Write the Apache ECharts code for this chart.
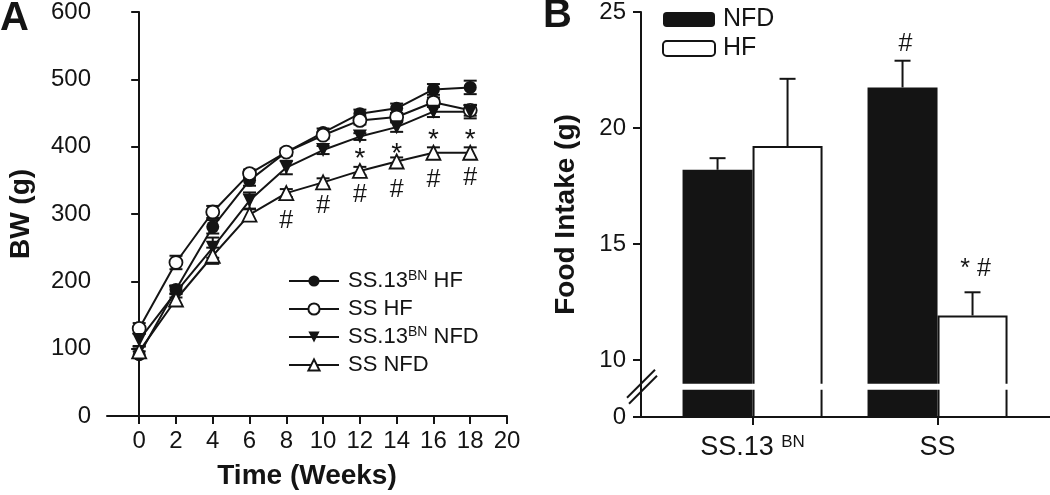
<!DOCTYPE html>
<html>
<head>
<meta charset="utf-8">
<script src="https://cdn.jsdelivr.net/npm/echarts@6/dist/echarts.min.js"></script>
<style>
  html, body { margin: 0; padding: 0; background: #fff; }
  #chart { width: 1050px; height: 495px; }
</style>
</head>
<body>
<div id="chart"></div>
<script>
// ---- panel A: body weight ----
const weeks = [0, 2, 4, 6, 8, 10, 12, 14, 16, 18]
const bwHF13 = [91, 188, 281, 350, 392, 421, 449, 457, 485, 488]
const bwHF13Err = [5, 6, 10, 8, 5, 6, 6, 7, 8, 10]
const bwHFSS = [130, 228, 303, 360, 392, 417, 439, 444, 466, 454]
const bwHFSSErr = [8, 10, 9, 6, 5, 5, 6, 6, 7, 8]
const bwNFD13 = [113, 184, 250, 320, 369, 395, 415, 429, 452, 452]
const bwNFD13Err = [10, 8, 15, 12, 10, 6, 5, 7, 8, 10]
const bwNFDSS = [96, 173, 238, 299, 331, 347, 364, 378, 391, 391]
const bwNFDSSErr = [8, 8, 12, 8, 6, 6, 6, 6, 8, 8]
const starWeeks = [12, 14, 16, 18]
const starBW = [390, 398, 419, 419]
const hashWeeks = [8, 10, 12, 14, 16, 18]
const hashBW = [289, 311, 328, 335, 351, 354]
const xTicksA = [0, 2, 4, 6, 8, 10, 12, 14, 16, 18, 20]

// ---- panel B: food intake ----
const groups = ['SS.13BN', 'SS']
const groupX = [1, 2]
const intakeNFD = [18.2, 21.75]
const intakeNFDErr = [0.5, 1.15]
const intakeHF = [19.22, 11.92]
const intakeHFErr = [2.9, 1.0]
const markB = [['#', 2, 23.6, -1], ['* #', 2, 13.9, 1]]
const yTicksB = [10, 15, 20, 25]

// broken axis: values between 0 and 10 are squeezed
const breakBase = 7.545
const gapLo = 8.72
const gapHi = 8.98

const FONT = 'Liberation Sans, Arial, sans-serif'
const INK = '#141414'
const BAR_W = 70

const chart = echarts.init(document.getElementById('chart'))

function pairs(xs, ys) {
  return xs.map((x, i) => [x, ys[i]])
}
function errTriples(ys, es) {
  return weeks.map((w, i) => [w, ys[i], es[i]])
}

function renderErrA(params, api) {
  const x = api.value(0)
  const y = api.value(1)
  const e = api.value(2)
  const hi = api.coord([x, y + e])
  const lo = api.coord([x, y - e])
  const c = 6.5
  const st = { stroke: INK, lineWidth: 2 }
  return {
    type: 'group',
    children: [
      { type: 'line', shape: { x1: hi[0], y1: hi[1], x2: lo[0], y2: lo[1] }, style: st },
      { type: 'line', shape: { x1: hi[0] - c, y1: hi[1], x2: hi[0] + c, y2: hi[1] }, style: st },
      { type: 'line', shape: { x1: lo[0] - c, y1: lo[1], x2: lo[0] + c, y2: lo[1] }, style: st }
    ]
  }
}

function textSeries(xAxisIndex, yAxisIndex, data, text, size, dy) {
  return {
    type: 'custom',
    xAxisIndex: xAxisIndex,
    yAxisIndex: yAxisIndex,
    z: 5,
    silent: true,
    data: data,
    renderItem: function(params, api) {
      const p = api.coord([api.value(0), api.value(1)])
      return {
        type: 'text',
        x: p[0],
        y: p[1] + dy,
        style: {
          text: text, fill: INK, fontSize: size, fontFamily: FONT,
          align: 'center', verticalAlign: 'middle'
        }
      }
    }
  }
}

function lineSeries(name, ys, symbol, size, fill) {
  return {
    name: name,
    type: 'line',
    xAxisIndex: 0,
    yAxisIndex: 0,
    z: 3,
    data: pairs(weeks, ys),
    symbol: symbol,
    symbolSize: size,
    showAllSymbol: true,
    lineStyle: { color: INK, width: 2 },
    itemStyle: { color: fill, borderColor: INK, borderWidth: fill === '#fff' ? 1.8 : 0 }
  }
}

function errSeries(ys, es) {
  return {
    type: 'custom',
    xAxisIndex: 0,
    yAxisIndex: 0,
    z: 2,
    silent: true,
    encode: { x: 0, y: 1 },
    data: errTriples(ys, es),
    renderItem: renderErrA
  }
}

function barErrSeries(vals, errs, side) {
  return {
    type: 'custom',
    xAxisIndex: 1,
    yAxisIndex: 1,
    z: 4,
    silent: true,
    data: groupX.map((x, i) => [x, vals[i], errs[i]]),
    renderItem: function(params, api) {
      const x = api.value(0)
      const y = api.value(1)
      const e = api.value(2)
      const base = api.coord([x, y])
      const top = api.coord([x, y + e])
      const cx = base[0] + side * BAR_W / 2
      const c = 8
      const st = { stroke: INK, lineWidth: 2 }
      return {
        type: 'group',
        children: [
          { type: 'line', shape: { x1: cx, y1: base[1], x2: cx, y2: top[1] }, style: st },
          { type: 'line', shape: { x1: cx - c, y1: top[1], x2: cx + c, y2: top[1] }, style: st }
        ]
      }
    }
  }
}

const axisStyle = { lineStyle: { color: INK, width: 2 } }
const tickStyle = { show: true, inside: false, length: 8, lineStyle: { color: INK, width: 2 } }

chart.setOption({
  animation: false,
  backgroundColor: '#fff',
  title: [
    { text: 'A', left: 0, top: -1, padding: 0, textStyle: { fontSize: 40, fontWeight: 'bold', color: INK, fontFamily: FONT } },
    { text: 'B', left: 543, top: -4, padding: 0, textStyle: { fontSize: 40, fontWeight: 'bold', color: INK, fontFamily: FONT } }
  ],
  legend: [
    {
      data: ['SS.13BN HF', 'SS HF', 'SS.13BN NFD', 'SS NFD'],
      orient: 'vertical',
      left: 283,
      top: 264,
      itemWidth: 50,
      itemHeight: 14,
      itemGap: 4,
      selectedMode: false,
      formatter: name => name.replace('BN', '{sup|BN}'),
      textStyle: {
        fontSize: 22, lineHeight: 24, color: INK, fontFamily: FONT, padding: [0, 0, 0, 4],
        rich: { sup: { fontSize: 14, fontFamily: FONT, color: INK, verticalAlign: 'top', lineHeight: 14 } }
      }
    },
    {
      data: ['NFD', 'HF'],
      orient: 'vertical',
      left: 657,
      top: 2,
      itemWidth: 52,
      itemHeight: 15,
      itemGap: 4,
      selectedMode: false,
      textStyle: { fontSize: 25, lineHeight: 25, color: INK, fontFamily: FONT, padding: [0, 0, 0, 3] }
    }
  ],
  grid: [
    { left: 107, top: 9, width: 400, height: 408 },
    { left: 641, top: 7, right: 0, height: 410 }
  ],
  xAxis: [
    {
      type: 'value',
      gridIndex: 0,
      min: -1.75,
      max: 20,
      name: 'Time (Weeks)',
      nameLocation: 'middle',
      nameGap: 46,
      nameTextStyle: { fontSize: 28, fontWeight: 'bold', color: INK, fontFamily: FONT },
      axisLine: axisStyle,
      axisTick: Object.assign({ customValues: xTicksA }, tickStyle),
      axisLabel: { customValues: xTicksA, margin: 13, fontSize: 24, color: INK, fontFamily: FONT },
      splitLine: { show: false }
    },
    {
      type: 'value',
      gridIndex: 1,
      min: 0.397,
      max: 2.608,
      axisLine: axisStyle,
      axisTick: Object.assign({ customValues: groupX }, tickStyle),
      axisLabel: {
        customValues: groupX,
        margin: 17,
        fontSize: 27,
        color: INK,
        fontFamily: FONT,
        formatter: v => groups[Math.round(v) - 1].replace('BN', ' {sup|BN}'),
        rich: { sup: { fontSize: 17, fontFamily: FONT, color: INK, verticalAlign: 'top', lineHeight: 17 } }
      },
      splitLine: { show: false }
    }
  ],
  yAxis: [
    {
      type: 'value',
      gridIndex: 0,
      min: 0,
      max: 600,
      interval: 100,
      name: 'BW (g)',
      nameLocation: 'middle',
      nameRotate: 90,
      nameGap: 72,
      nameTextStyle: { fontSize: 28, fontWeight: 'bold', color: INK, fontFamily: FONT },
      axisLine: axisStyle,
      axisTick: tickStyle,
      axisLabel: { margin: 16, fontSize: 24, color: INK, fontFamily: FONT },
      splitLine: { show: false }
    },
    {
      type: 'value',
      gridIndex: 1,
      min: breakBase,
      max: 25,
      name: 'Food Intake (g)',
      nameLocation: 'middle',
      nameRotate: 90,
      nameGap: 61,
      nameTextStyle: { fontSize: 28, fontWeight: 'bold', color: INK, fontFamily: FONT },
      axisLine: axisStyle,
      axisTick: Object.assign({ customValues: [breakBase].concat(yTicksB) }, tickStyle),
      axisLabel: {
        customValues: [breakBase].concat(yTicksB),
        margin: 15,
        fontSize: 24,
        color: INK,
        fontFamily: FONT,
        formatter: v => (v < 9 ? '0' : String(v))
      },
      splitLine: { show: false }
    }
  ],
  series: [
    errSeries(bwHF13, bwHF13Err),
    errSeries(bwHFSS, bwHFSSErr),
    errSeries(bwNFD13, bwNFD13Err),
    errSeries(bwNFDSS, bwNFDSSErr),
    lineSeries('SS.13BN HF', bwHF13, 'circle', 13, INK),
    lineSeries('SS HF', bwHFSS, 'circle', 13, '#fff'),
    lineSeries('SS.13BN NFD', bwNFD13, 'path://M0,0L12,0L6,11Z', 14, INK),
    lineSeries('SS NFD', bwNFDSS, 'triangle', 14, '#fff'),
    textSeries(0, 0, pairs(starWeeks, starBW), '*', 28, 6),
    textSeries(0, 0, pairs(hashWeeks, hashBW), '#', 25, 0),
    {
      name: 'NFD',
      type: 'bar',
      xAxisIndex: 1,
      yAxisIndex: 1,
      barWidth: BAR_W,
      barGap: '0%',
      clip: true,
      data: pairs(groupX, intakeNFD),
      itemStyle: { color: INK, borderColor: INK, borderWidth: 0 }
    },
    {
      name: 'HF',
      type: 'bar',
      xAxisIndex: 1,
      yAxisIndex: 1,
      barWidth: BAR_W,
      barGap: '0%',
      clip: true,
      data: pairs(groupX, intakeHF),
      itemStyle: { color: '#fff', borderColor: INK, borderWidth: 2 }
    },
    barErrSeries(intakeNFD, intakeNFDErr, -1),
    barErrSeries(intakeHF, intakeHFErr, 1),
    {
      // white band through the bars where the axis is broken
      type: 'custom',
      xAxisIndex: 1,
      yAxisIndex: 1,
      z: 6,
      silent: true,
      data: groupX.map(x => [x]),
      renderItem: function(params, api) {
        const a = api.coord([api.value(0), gapHi])
        const b = api.coord([api.value(0), gapLo])
        return {
          type: 'rect',
          shape: { x: a[0] - BAR_W - 3, y: a[1], width: BAR_W * 2 + 6, height: b[1] - a[1] },
          style: { fill: '#fff' }
        }
      }
    },
    {
      // break marks on the y axis
      type: 'custom',
      xAxisIndex: 1,
      yAxisIndex: 1,
      z: 6,
      silent: true,
      data: [[0.397, (gapLo + gapHi) / 2]],
      renderItem: function(params, api) {
        const p = api.coord([api.value(0), api.value(1)])
        const st = { stroke: INK, lineWidth: 2 }
        return {
          type: 'group',
          children: [
            { type: 'line', shape: { x1: p[0] - 14, y1: p[1] + 11, x2: p[0] + 14, y2: p[1] - 17 }, style: st },
            { type: 'line', shape: { x1: p[0] - 12, y1: p[1] + 17, x2: p[0] + 16, y2: p[1] - 11 }, style: st }
          ]
        }
      }
    },
    {
      type: 'custom',
      xAxisIndex: 1,
      yAxisIndex: 1,
      z: 6,
      silent: true,
      data: markB.map(m => [m[1], m[2], m[3]]),
      renderItem: function(params, api) {
        const p = api.coord([api.value(0), api.value(1)])
        return {
          type: 'text',
          x: p[0] + api.value(2) * BAR_W / 2 + 3,
          y: p[1],
          style: {
            text: markB[params.dataIndex][0], fill: INK, fontSize: 25, fontFamily: FONT,
            align: 'center', verticalAlign: 'middle'
          }
        }
      }
    }
  ]
})
</script>
</body>
</html>
